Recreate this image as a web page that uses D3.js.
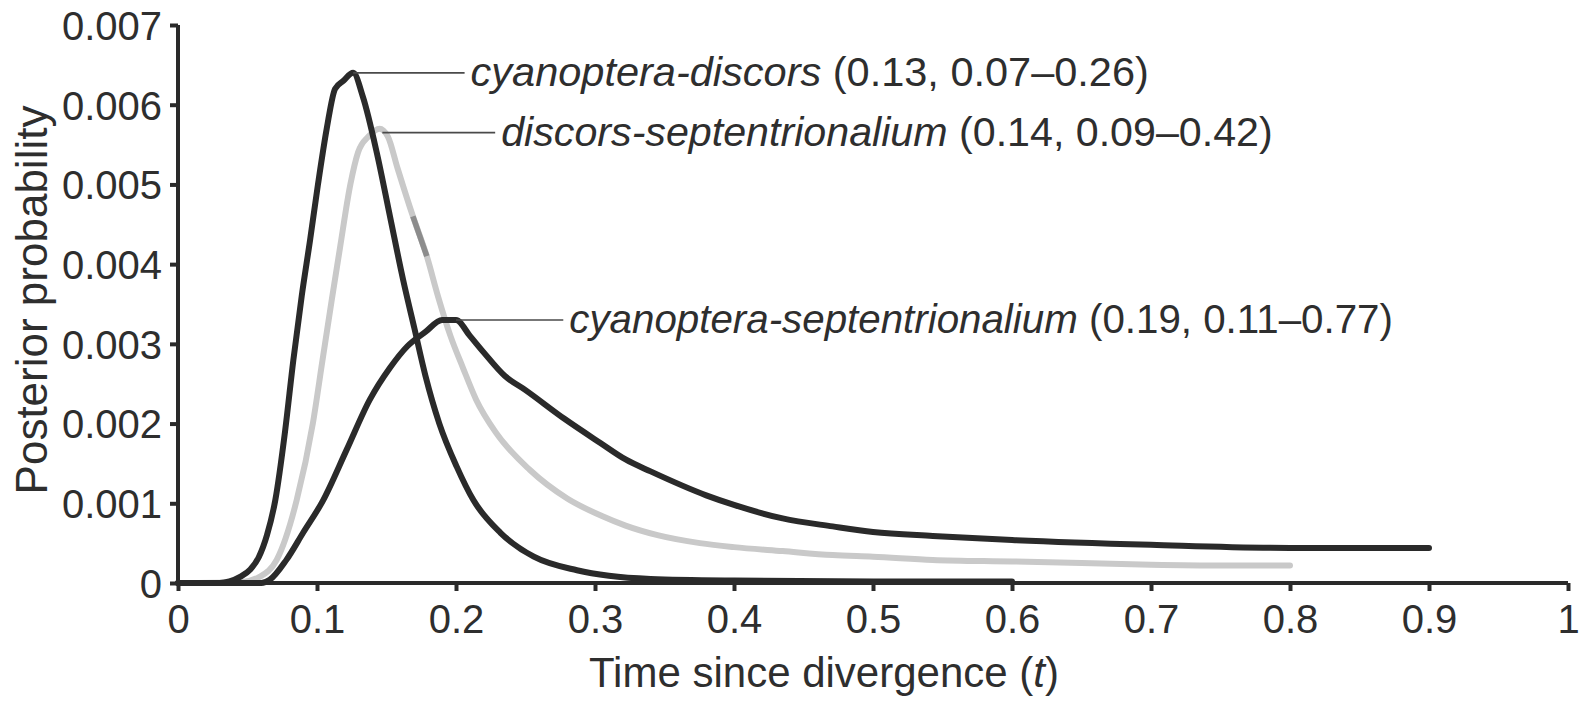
<!DOCTYPE html>
<html>
<head>
<meta charset="utf-8">
<script src="https://cdn.jsdelivr.net/npm/d3@7"></script>
<style>
  html, body { margin: 0; padding: 0; background: #fff; }
  svg { display: block; }
  text { font-family: "Liberation Sans", Arial, Helvetica, sans-serif; fill: #2e2e2e; }
</style>
</head>
<body>
<svg id="chart" width="1582" height="710"></svg>
<script>
// ---- data ----
const xTicks = [0, 0.1, 0.2, 0.3, 0.4, 0.5, 0.6, 0.7, 0.8, 0.9, 1];
const xTickLabels = ["0", "0.1", "0.2", "0.3", "0.4", "0.5", "0.6", "0.7", "0.8", "0.9", "1"];
const yTicks = [0, 0.001, 0.002, 0.003, 0.004, 0.005, 0.006, 0.007];
const yTickLabels = ["0", "0.001", "0.002", "0.003", "0.004", "0.005", "0.006", "0.007"];

// cyanoptera-discors
const cdT = [0, 0.03, 0.037, 0.045, 0.052, 0.058, 0.064, 0.07, 0.077, 0.083, 0.089, 0.095, 0.1007, 0.107, 0.113, 0.119, 0.126, 0.133, 0.143, 0.1525, 0.162, 0.17, 0.178, 0.188, 0.2005, 0.2125, 0.232, 0.256, 0.287, 0.31, 0.34, 0.4, 0.5, 0.6];
const cdP = [0, 0, 0.00002, 0.00008, 0.00017, 0.00032, 0.0006, 0.00104, 0.0019, 0.0028, 0.0036, 0.0043, 0.005, 0.0057, 0.0062, 0.0063, 0.0064, 0.0061, 0.0054, 0.0046, 0.0038, 0.0032, 0.0026, 0.002, 0.00146, 0.00104, 0.00063, 0.00033, 0.00016, 0.00009, 0.00005, 0.00003, 0.00002, 0.00002];

// discors-septentrionalium
const dsT = [0, 0.045, 0.059, 0.071, 0.0854, 0.097, 0.104, 0.1106, 0.1165, 0.124, 0.1295, 0.137, 0.145, 0.151, 0.158, 0.169, 0.179, 0.187, 0.196, 0.205, 0.2145, 0.229, 0.253, 0.28, 0.305, 0.322, 0.345, 0.3755, 0.4, 0.435, 0.471, 0.5, 0.543, 0.6, 0.65, 0.7, 0.75, 0.8];
const dsP = [0, 0.00001, 0.00008, 0.00029, 0.00104, 0.002, 0.0028, 0.00355, 0.0042, 0.005, 0.0054, 0.0056, 0.0057, 0.0056, 0.0052, 0.0046, 0.0041, 0.0036, 0.0031, 0.0027, 0.0023, 0.00188, 0.00142, 0.00106, 0.00084, 0.00072, 0.0006, 0.0005, 0.00045, 0.0004, 0.00035, 0.00033, 0.00029, 0.00027, 0.00025, 0.00023, 0.00022, 0.00022];

// cyanoptera-septentrionalium
const csT = [0, 0.06, 0.066, 0.078, 0.09, 0.1045, 0.1213, 0.138, 0.1525, 0.165, 0.178, 0.19, 0.2, 0.21, 0.2196, 0.235, 0.25, 0.278, 0.3036, 0.322, 0.34, 0.38, 0.4, 0.435, 0.471, 0.5, 0.543, 0.6, 0.7, 0.8, 0.9];
const csP = [0, 0, 0.00004, 0.00029, 0.00063, 0.00104, 0.00167, 0.0023, 0.0027, 0.00297, 0.00315, 0.0033, 0.0033, 0.0031, 0.0029, 0.0026, 0.00242, 0.00206, 0.00176, 0.00155, 0.0014, 0.0011, 0.00098, 0.00081, 0.00071, 0.00064, 0.00059, 0.00054, 0.00048, 0.00044, 0.00044];

const seriesNames = ["cyanoptera-discors", "discors-septentrionalium", "cyanoptera-septentrionalium"];
const seriesStats = ["(0.13, 0.07\u20130.26)", "(0.14, 0.09\u20130.42)", "(0.19, 0.11\u20130.77)"];
const seriesColors = ["#2a2a2a", "#c9c9c9", "#2a2a2a"];
// label anchors: peak (t, p) the leader starts from, and t where the label text begins
const anchorT = [0.126, 0.147, 0.2];
const anchorP = [0.0064, 0.00565, 0.0033];
const labelT = [0.2105, 0.2325, 0.2815];
const labelSize = [41.5, 41.2, 40.3];

// ---- layout ----
const W = 1582, H = 710;
const margin = { left: 178, right: 14, top: 25, bottom: 127 };
const svg = d3.select("#chart");

const x = d3.scaleLinear().domain([0, 1]).range([margin.left, W - margin.right]);
const y = d3.scaleLinear().domain([0, 0.007]).range([H - margin.bottom, margin.top]);

const seriesData = [
  cdT.map((t, i) => [t, cdP[i]]),
  dsT.map((t, i) => [t, dsP[i]]),
  csT.map((t, i) => [t, csP[i]])
];

const line = d3.line().x(d => x(d[0])).y(d => y(d[1])).curve(d3.curveMonotoneX);

// curves (grey first, then dark on top as in the picture)
const order = [1, 0, 2];
order.forEach(i => {
  svg.append("path")
    .datum(seriesData[i])
    .attr("d", line)
    .attr("fill", "none")
    .attr("stroke", seriesColors[i])
    .attr("stroke-width", 6)
    .attr("stroke-linejoin", "round")
    .attr("stroke-linecap", "round");
});
// darker scan mark on the grey curve
svg.append("path")
  .datum(seriesData[1].filter(d => d[0] >= 0.169 && d[0] <= 0.179))
  .attr("d", line)
  .attr("fill", "none")
  .attr("stroke", "#8c8c8c")
  .attr("stroke-width", 5.5);

// axes
const xAxis = d3.axisBottom(x).tickValues(xTicks).tickFormat((d, i) => xTickLabels[i]).tickSize(8).tickPadding(10);
const yAxis = d3.axisLeft(y).tickValues(yTicks).tickFormat((d, i) => yTickLabels[i]).tickSize(8).tickPadding(8);

const gx = svg.append("g").attr("transform", `translate(0,${y(0)})`).call(xAxis);
const gy = svg.append("g").attr("transform", `translate(${x(0)},0)`).call(yAxis);

[gx, gy].forEach(g => {
  g.select(".domain").attr("stroke", "#2a2a2a").attr("stroke-width", 4);
  g.selectAll(".tick line").attr("stroke", "#2a2a2a").attr("stroke-width", 4);
  g.selectAll(".tick text").attr("fill", "#2e2e2e").style("font-size", "40px")
    .style("font-family", "'Liberation Sans', Arial, sans-serif");
});
gx.select(".domain").attr("d", `M${x(0)},0H${x(1)}`);
gy.select(".domain").attr("d", `M0,${y(0)}V${y(0.007)}`);
gx.selectAll(".tick text").attr("dy", "0.8em");
gy.selectAll(".tick text").attr("dy", "0.36em");

// annotations
seriesNames.forEach((name, i) => {
  const y0 = y(anchorP[i]);
  svg.append("line")
    .attr("x1", x(anchorT[i])).attr("y1", y0)
    .attr("x2", x(labelT[i]) - 6).attr("y2", y0)
    .attr("stroke", "#4a4a4a").attr("stroke-width", 1.6);
  const t = svg.append("text")
    .attr("x", x(labelT[i])).attr("y", y0 + 13)
    .style("font-size", labelSize[i] + "px");
  t.append("tspan").style("font-style", "italic").text(name);
  t.append("tspan").text(" " + seriesStats[i]);
});

// axis titles
const xt = svg.append("text")
  .attr("x", 824).attr("y", 687)
  .attr("text-anchor", "middle")
  .style("font-size", "42px");
xt.append("tspan").text("Time since divergence (");
xt.append("tspan").style("font-style", "italic").text("t");
xt.append("tspan").text(")");

svg.append("text")
  .attr("transform", "translate(47,300) rotate(-90)")
  .attr("text-anchor", "middle")
  .style("font-size", "44px")
  .text("Posterior probability");
</script>
</body>
</html>
